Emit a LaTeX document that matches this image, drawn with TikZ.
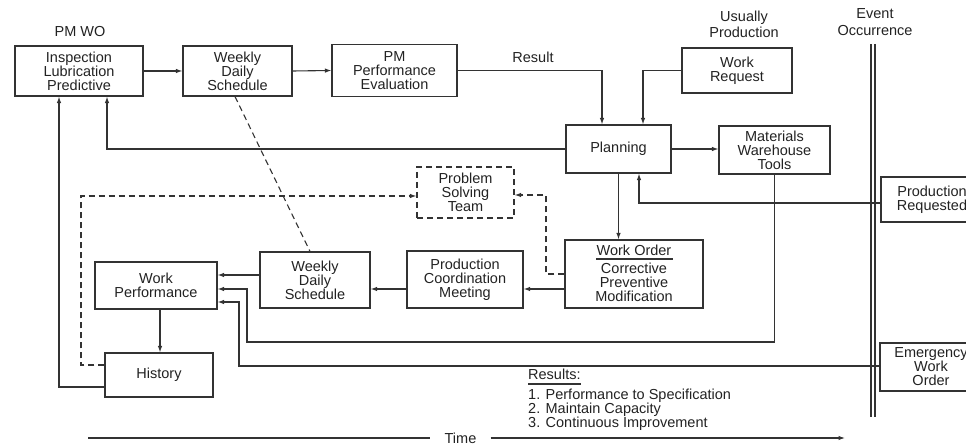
\documentclass[tikz,border=0pt]{standalone}
\usepackage{fontspec}
\setmainfont{Liberation Sans}
\usetikzlibrary{arrows.meta,calc}
\definecolor{ln}{HTML}{333333}
\definecolor{txt}{HTML}{222222}
\begin{document}
\begin{tikzpicture}[x=1pt,y=-1pt,
  every node/.style={font=\fontsize{14.5pt}{14pt}\selectfont, text=txt, align=center},
  box/.style={draw=ln, line width=1.1pt, inner sep=0pt},
  conn/.style={draw=ln, line width=1.1pt},
  arr/.style={conn, -{Latex[length=6.5pt,width=4.5pt]}},
  dsh/.style={conn, dash pattern=on 6pt off 4pt},
  dsharr/.style={dsh, -{Latex[length=6.5pt,width=4.5pt]}},
]
\useasboundingbox (0,0) rectangle (966,446);
\clip (0,0) rectangle (966,446);

% boxes
\node[box, minimum width=128pt, minimum height=50pt] (insp) at (79,71) {Inspection\\Lubrication\\Predictive};
\node[box, minimum width=109pt, minimum height=50pt] (wds1) at (237.5,71) {Weekly\\Daily\\Schedule};
\node[box, minimum width=125pt, minimum height=52pt] (pmpe) at (394.5,70.5) {PM\\Performance\\Evaluation};
\node[box, minimum width=110pt, minimum height=45pt] (wreq) at (737,70.5) {Work\\Request};
\node[box, minimum width=105pt, minimum height=48pt] (plan) at (618.5,149) {Planning};
\node[box, minimum width=111pt, minimum height=48pt] (mat) at (774.5,150) {Materials\\Warehouse\\Tools};
\node[box, minimum width=102pt, minimum height=45pt] (prodreq) at (932,199.5) {Production\\Requested};
\node[box, dash pattern=on 6pt off 4pt, minimum width=97pt, minimum height=51pt] (pst) at (465.5,192.5) {Problem\\Solving\\Team};
\node[box, minimum width=138pt, minimum height=68pt] (wo) at (634,274) {};
\node (wotitle) at (634,250.5) {Work Order};
\node (wobody) at (634,282.5) {Corrective\\Preventive\\Modification};
\node[box, minimum width=116pt, minimum height=57pt] (pcm) at (465,279.5) {Production\\Coordination\\Meeting};
\node[box, minimum width=110pt, minimum height=56pt] (wds2) at (315,280) {Weekly\\Daily\\Schedule};
\node[box, minimum width=122pt, minimum height=47pt] (wp) at (156,285.5) {Work\\Performance};
\node[box, minimum width=108pt, minimum height=44pt] (hist) at (159,375) {History};
\node[box, minimum width=102pt, minimum height=48pt] (ewo) at (931,367) {Emergency\\Work\\Order};

% labels
\node (pmwo) at (80,32) {PM WO};
\node (result) at (533,57) {Result};
\node (usu) at (744,24) {Usually\\[2pt]Production};
\node (evt) at (875,22.5) {Event\\[3pt]Occurrence};
\node[anchor=base west, inner sep=0pt] (resl) at (528,379) {Results:};
\node[anchor=north west, inner sep=0pt, align=left] (resitems) at (528,389) {1. Performance to Specification\\2. Maintain Capacity\\3. Continuous Improvement};
\node[inner xsep=14pt] (time) at (460.5,438) {Time};

% work order rule and results underline
\coordinate (wol) at (596,259);
\coordinate (wor) at (673,259);
\draw[conn] (wol) -- (wor);
\draw[conn] ($(resl.base west)+(0,5)$) -- ($(resl.base east)+(0,5)$);

% event occurrence double line
\coordinate (ev1t) at (871,44); \coordinate (ev1b) at (871,417);
\coordinate (ev2t) at (875,44); \coordinate (ev2b) at (875,417);
\draw[conn] (ev1t) -- (ev1b);
\draw[conn] (ev2t) -- (ev2b);

% connectors
\draw[arr] (insp.east) -- (wds1.west);
\draw[arr] (wds1.east) -- (pmpe.west);
\draw[arr] (pmpe.east) -| ($(plan.north)+(-16.5,0)$);
\draw[arr] (wreq.west) -| ($(plan.north)+(24.5,0)$);
\draw[arr] (plan.east) -- (plan.east -| mat.west);
\draw[arr] (plan.west) -| ($(insp.south)+(28,0)$);
\draw[arr] ($(prodreq.west)+(0,3.5)$) -| ($(plan.south)+(20.5,0)$);
\coordinate (m1) at (247,342);
\draw[arr] (mat.south) |- (m1) |- ($(wp.east)+(0,3.5)$);
\coordinate (e1) at (239,366);
\draw[arr] ($(ewo.west)+(0,-1)$) -- (e1) |- ($(wp.east)+(0,16.5)$);
\draw[arr] ($(wds2.west)+(0,-5)$) coordinate (t1) -- (t1 -| wp.east);
\draw[arr] ($(pcm.west)+(0,9.5)$) coordinate (t2) -- (t2 -| wds2.east);
\draw[arr] ($(wo.west)+(0,15)$) coordinate (t3) -- (t3 -| pcm.east);
\draw[arr] (plan.south) -- (plan.south |- wo.north);
\draw[arr] ($(wp.south)+(4,0)$) coordinate (t4) -- (t4 |- hist.north);
\draw[arr] ($(hist.west)+(0,12)$) -| ($(insp.south)+(-20,0)$);

% dashed connectors
\coordinate (d1) at (546,195);
\draw[dsharr] (wo.west) -| (d1) -- (d1 -| pst.east);
\coordinate (d2) at (81,196);
\draw[dsharr] ($(hist.west)+(0,-10)$) -| (d2) -- (d2 -| pst.west);
\draw[dsh] ($(wds1.south)+(-2.5,0)$) -- ($(wds2.north)+(-5,0)$);

% time axis
\coordinate (tl) at (88,438);
\coordinate (tr) at (845,438);
\draw[conn] (tl) -- (time.west);
\draw[arr] (time.east) -- (tr);
\end{tikzpicture}
\end{document}
